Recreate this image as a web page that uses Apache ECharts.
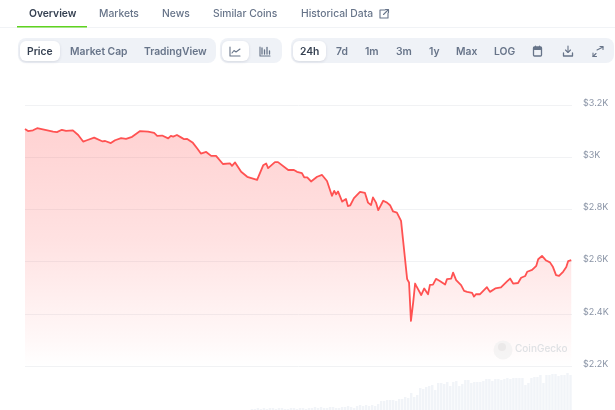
<!DOCTYPE html>
<html><head><meta charset="utf-8">
<style>html,body{margin:0;padding:0;background:#fff}#c{width:615px;height:410px}</style>
<script src="https://cdn.jsdelivr.net/npm/echarts@6/dist/echarts.min.js"></script>
</head><body><div id="c"></div>
<script>
const minutes=[0,8,21,32,47,74,84,97,108,113,126,140,153,163,182,203,211,226,237,253,266,282,303,324,340,348,361,377,384,390,400,413,419,427,442,453,463,477,490,503,521,540,545,553,569,585,590,611,627,635,640,658,666,693,708,716,729,735,743,753,758,769,782,795,808,811,814,819,824,835,845,850,856,866,871,882,895,903,911,916,924,930,943,953,961,969,979,990,995,1006,1011,1016,1022,1027,1030,1035,1043,1051,1061,1066,1074,1082,1087,1093,1106,1111,1122,1127,1135,1148,1156,1164,1177,1182,1187,1198,1216,1224,1238,1253,1269,1277,1285,1298,1306,1317,1322,1335,1346,1351,1361,1372,1382,1390,1398,1406,1417,1425,1430,1438];
const prices=[3108,3100,3103,3111,3107,3098,3096,3105,3101,3107,3103,3085,3060,3065,3075,3061,3062,3054,3065,3073,3070,3078,3100,3098,3093,3082,3083,3072,3082,3079,3085,3074,3069,3070,3055,3034,3014,3020,3005,3005,2974,2976,2967,2980,2944,2925,2932,2913,2969,2976,2958,2981,2981,2951,2951,2944,2939,2923,2923,2907,2908,2925,2932,2909,2852,2849,2871,2858,2869,2830,2840,2813,2815,2843,2846,2867,2863,2826,2817,2846,2826,2797,2833,2826,2816,2792,2788,2756,2686,2533,2520,2373,2445,2516,2507,2511,2472,2497,2475,2511,2512,2534,2533,2525,2512,2533,2535,2558,2529,2510,2488,2484,2480,2466,2475,2475,2502,2484,2497,2501,2524,2535,2516,2518,2538,2545,2561,2568,2584,2609,2622,2604,2597,2579,2548,2545,2562,2579,2602,2606];
const volumeEmptyBars=75;
const volumes=[1,1,2,1,2,1,2,2,1,2,2,1,1,2,2,1,2,2,1,2,2,3,2,3,2,2,3,3,2,2,3,3,4,3,2,4,5,4,5,4,5,4,6,9,9,10,10,10,9,11,11,13,12,17,13,15,22,21,23,24,25,20,27,27,26,28,24,28,29,24,26,30,30,27,28,28,28,29,31,31,29,31,31,30,31,32,31,32,32,32,32,25,27,32,33,33,35,27,35,35,36,36,34,35,35,37,35];
const yTicks=[2200,2400,2600,2800,3000,3200];
const yTickLabels=["$2.2K","$2.4K","$2.6K","$2.8K","$3K","$3.2K"];
const tabs=["Overview","Markets","News","Similar Coins","Historical Data"];
const chartTypes=["Price","Market Cap","TradingView"];
const ranges=["24h","7d","1m","3m","1y","Max","LOG"];

const F='Inter, "Noto Sans", sans-serif';
const DARK='#364152', GREY='#677489', PANEL='#eff2f7';
const chart=echarts.init(document.getElementById('c'),null,{renderer:'canvas'});
const lineData=minutes.map((m,i)=>[m,prices[i]]);
const volData=new Array(volumeEmptyBars).fill(null).concat(volumes);

function txt(s,x,y,o){return {type:'text',z:20,x:x,y:y,style:Object.assign({text:s,fill:GREY,font:'600 10.3px '+F,textVerticalAlign:'middle',textBaseline:'middle'},o||{})}}
function rr(x,y,w,h,r,fill,extra){return Object.assign({type:'rect',z:10,shape:{x,y,width:w,height:h,r},style:{fill}},extra||{})}
function pl(pts,col,w){return {type:'polyline',z:21,shape:{points:pts},style:{fill:'none',stroke:col||GREY,lineWidth:w||1.1,lineJoin:'round',lineCap:'round'}}}

const tabX=[29,99,162,213,301];
const rangeX=[300,336,365,396,429,456,494];
const shadow={shadowBlur:3,shadowColor:'rgba(30,40,70,0.12)',shadowOffsetY:1};
const graphics=[
  rr(0,27,615,1,0,'#f1f3f6'),
  rr(17,26,70,1.6,0,'#5fd31f'),
  rr(18,38,198,25,8,PANEL),
  {type:'rect',z:11,shape:{x:20,y:41,width:40,height:20,r:6},style:Object.assign({fill:'#fff'},shadow)},
  rr(220,38,62,25,8,PANEL),
  {type:'rect',z:11,shape:{x:222,y:41,width:27,height:20,r:6},style:Object.assign({fill:'#fff'},shadow)},
  rr(291,38,323,25,8,PANEL),
  {type:'rect',z:11,shape:{x:293,y:41,width:33,height:20,r:6},style:Object.assign({fill:'#fff'},shadow)},
  txt(chartTypes[0],27,51.5,{fill:DARK}),
  txt(chartTypes[1],70,51.5),
  txt(chartTypes[2],144,51.5),
  pl([[230,47],[230,56],[240,56]],GREY),pl([[232,53],[234,50.5],[236,52],[240,49]],GREY),
  pl([[260,47],[260,56],[270,56]],GREY),pl([[262,54],[262,48]],GREY,1.3),pl([[264.5,54],[264.5,50]],GREY,1.3),pl([[267,54],[267,47.5]],GREY,1.3),pl([[269.5,54],[269.5,51]],GREY,1.3),
  {type:'rect',z:21,shape:{x:533.5,y:47,width:8,height:9,r:1},style:{fill:'none',stroke:GREY,lineWidth:1.3}},
  rr(533.5,47,8,3,1,GREY,{z:22}),pl([[535.5,46],[535.5,47.5]],GREY),pl([[539.5,46],[539.5,47.5]],GREY),
  pl([[568,46],[568,52]],GREY),pl([[565.5,50],[568,52.5],[570.5,50]],GREY),pl([[563.5,53],[563.5,56],[572.5,56],[572.5,53]],GREY,1.3),
  pl([[597,50],[603,47]],GREY),pl([[600,46.5],[603,46.5],[603,49.5]],GREY),pl([[593,53],[593,56.5],[596.5,56.5]],GREY),pl([[593,56.5],[596,53.5]],GREY),
  pl([[385,10],[380,10],[380,18],[388,18],[388,13]],GREY),pl([[383.5,14.5],[388,10]],GREY),pl([[385.5,9.5],[388.5,9.5],[388.5,12.5]],GREY),
  {type:'circle',z:5,shape:{cx:503,cy:350,r:9.5},style:{fill:'#f3f1f1',opacity:0.8}},
  {type:'circle',z:6,shape:{cx:502,cy:347,r:4},style:{fill:'#e8e6e6',opacity:0.8}},
  txt('CoinGecko',515,349,{fill:'#dfe1e4',font:'500 10px '+F})
];
tabs.forEach((t,i)=>graphics.push(txt(t,tabX[i],13.5,{fill:i===0?DARK:GREY,font:(i===0?'600':'500')+' 10.3px '+F})));
ranges.forEach((t,i)=>graphics.push(txt(t,rangeX[i],51.5,{fill:i===0?DARK:GREY})));

chart.setOption({
  animation:false,
  backgroundColor:'#fff',
  graphic:graphics,
  grid:[
    {left:25,right:43,top:105,height:261},
    {left:25,right:43,top:372,height:38}
  ],
  xAxis:[
    {type:'value',gridIndex:0,min:0,max:1440,show:false},
    {type:'category',gridIndex:1,data:volData.map((_,i)=>i),show:false}
  ],
  yAxis:[
    {type:'value',gridIndex:0,position:'right',min:yTicks[0],max:yTicks[yTicks.length-1],interval:200,
     axisLine:{show:false},axisTick:{show:false},
     splitLine:{lineStyle:{color:'#f1f2f4',width:1}},
     axisLabel:{margin:11,color:'#8a94a6',fontSize:9,fontFamily:F,verticalAlign:'bottom',lineHeight:12,padding:[0,0,-4,0],
       formatter:v=>yTickLabels[yTicks.indexOf(v)]}},
    {type:'value',gridIndex:1,min:0,max:38,show:false}
  ],
  series:[
    {type:'line',xAxisIndex:0,yAxisIndex:0,data:lineData,showSymbol:false,smooth:false,z:3,
     lineStyle:{color:'#ff5252',width:1.8,join:'round'},
     areaStyle:{origin:'start',color:new echarts.graphic.LinearGradient(0,0,0,1,[
       {offset:0,color:'rgba(255,80,80,0.36)'},
       {offset:0.36,color:'rgba(255,80,80,0.27)'},
       {offset:0.47,color:'rgba(255,80,80,0.24)'},
       {offset:0.72,color:'rgba(255,80,80,0.13)'},
       {offset:0.89,color:'rgba(255,80,80,0.06)'},
       {offset:1,color:'rgba(255,80,80,0)'}])}},
    {type:'bar',xAxisIndex:1,yAxisIndex:1,data:volData,barWidth:2.4,itemStyle:{color:'#f1f4f8'}}
  ]
});
</script></body></html>
